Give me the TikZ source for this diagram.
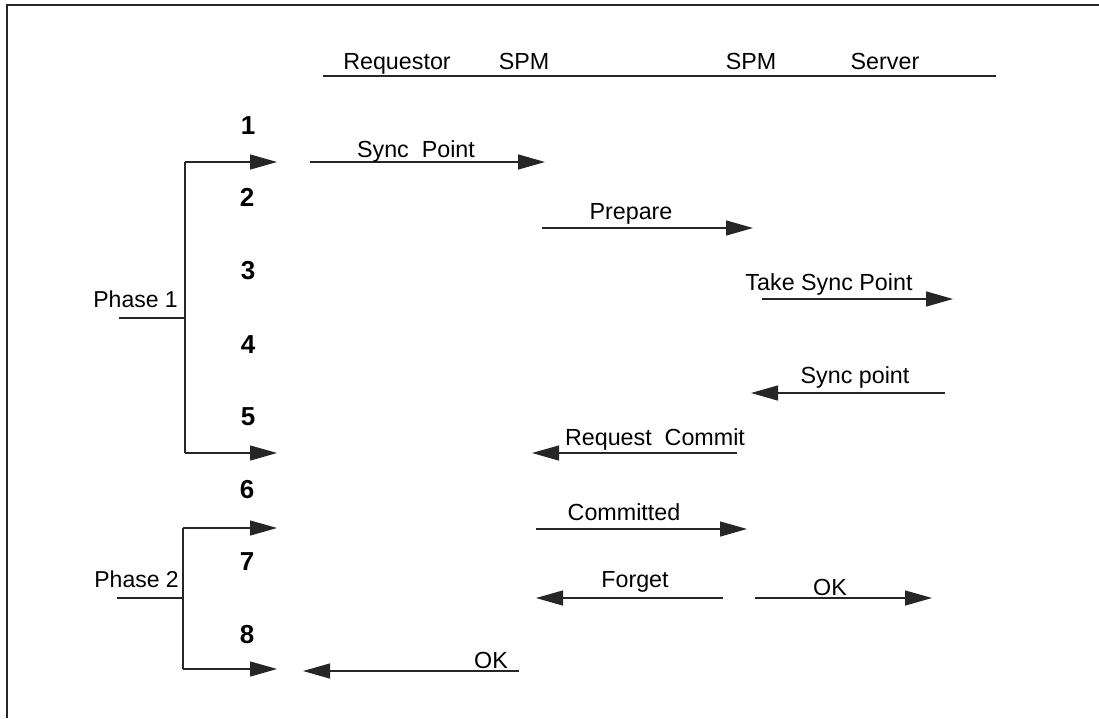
\documentclass[tikz,border=0pt]{standalone}
\usepackage{fontspec}
\setmainfont{Liberation Sans}
\usetikzlibrary{arrows.meta}
\begin{document}
\begin{tikzpicture}[x=1pt,y=-1pt,
  wire/.style={line width=1.3pt,black!85},
  msg/.style={wire,-{Triangle[length=27pt,width=15pt]}},
  lbl/.style={anchor=base,inner sep=0pt,font=\fontsize{23.3}{27}\selectfont},
  num/.style={inner sep=0pt,font=\fontsize{26}{30}\selectfont\bfseries},
  plbl/.style={anchor=base east,inner sep=0pt,font=\fontsize{23}{27}\selectfont}]
\useasboundingbox (0,0) rectangle (1099,718);

% frame (top and left edges)
\coordinate (fTL) at (7,5);
\coordinate (fTR) at (1099,5);
\coordinate (fBL) at (7,718);
\draw[wire] (fTR) -- (fTL) -- (fBL);

% column headings
\coordinate (hL) at (323,76);
\coordinate (hR) at (996,76);
\draw[wire] (hL) -- (hR);
\node[lbl] (hReq)  at (397,69) {Requestor};
\node[lbl] (hSpmA) at (524,69) {SPM};
\node[lbl] (hSpmB) at (751,69) {SPM};
\node[lbl] (hSrv)  at (885,69) {Server};

% step numbers
\node[num] (n1) at (248,126) {1};
\node[num] (n2) at (247,197) {2};
\node[num] (n3) at (248,271) {3};
\node[num] (n4) at (248,345) {4};
\node[num] (n5) at (248,417) {5};
\node[num] (n6) at (247,490) {6};
\node[num] (n7) at (247,562) {7};
\node[num] (n8) at (247,635) {8};

% phase 1 bracket
\coordinate (p1top) at (185,162);
\coordinate (p1bot) at (185,453);
\coordinate (p1mid) at (185,318);
\coordinate (p1stub) at (119,318);
\coordinate (p1a) at (277,162);
\coordinate (p1b) at (277,453);
\draw[wire] (p1top) -- (p1bot);
\draw[wire] (p1stub) -- (p1mid);
\draw[msg] (p1top) -- (p1a);
\draw[msg] (p1bot) -- (p1b);
\node[plbl] (ph1) at (178,307) {Phase 1};

% phase 2 bracket
\coordinate (p2top) at (183,528);
\coordinate (p2bot) at (183,669);
\coordinate (p2mid) at (183,598);
\coordinate (p2stub) at (117,598);
\coordinate (p2a) at (277,528);
\coordinate (p2b) at (277,669);
\draw[wire] (p2top) -- (p2bot);
\draw[wire] (p2stub) -- (p2mid);
\draw[msg] (p2top) -- (p2a);
\draw[msg] (p2bot) -- (p2b);
\node[plbl] (ph2) at (179,587) {Phase 2};

% messages
\coordinate (m1s) at (310,162); \coordinate (m1e) at (545,162);
\draw[msg] (m1s) -- (m1e);
\node[lbl] (t1) at (416,157) {Sync\ \ Point};

\coordinate (m2s) at (542,228); \coordinate (m2e) at (753,228);
\draw[msg] (m2s) -- (m2e);
\node[lbl] (t2) at (631,219) {Prepare};

\coordinate (m3s) at (762,299); \coordinate (m3e) at (953,299);
\draw[msg] (m3s) -- (m3e);
\node[lbl] (t3) at (829,290) {Take Sync Point};

\coordinate (m4s) at (945,393); \coordinate (m4e) at (751,393);
\draw[msg] (m4s) -- (m4e);
\node[lbl] (t4) at (855,383) {Sync point};

\coordinate (m5s) at (737,453); \coordinate (m5e) at (532,453);
\draw[msg] (m5s) -- (m5e);
\node[lbl] (t5) at (655,445) {Request\ \ Commit};

\coordinate (m6s) at (536,529); \coordinate (m6e) at (747,529);
\draw[msg] (m6s) -- (m6e);
\node[lbl] (t6) at (624,520) {Committed};

\coordinate (m7s) at (723,598); \coordinate (m7e) at (536,598);
\draw[msg] (m7s) -- (m7e);
\node[lbl] (t7) at (635,587) {Forget};

\coordinate (m7bs) at (755,598); \coordinate (m7be) at (932,598);
\draw[msg] (m7bs) -- (m7be);
\node[lbl] (t7b) at (830,595) {OK};

\coordinate (m8s) at (519,671); \coordinate (m8e) at (303,671);
\draw[msg] (m8s) -- (m8e);
\node[lbl] (t8) at (491,668) {OK};
\end{tikzpicture}
\end{document}
